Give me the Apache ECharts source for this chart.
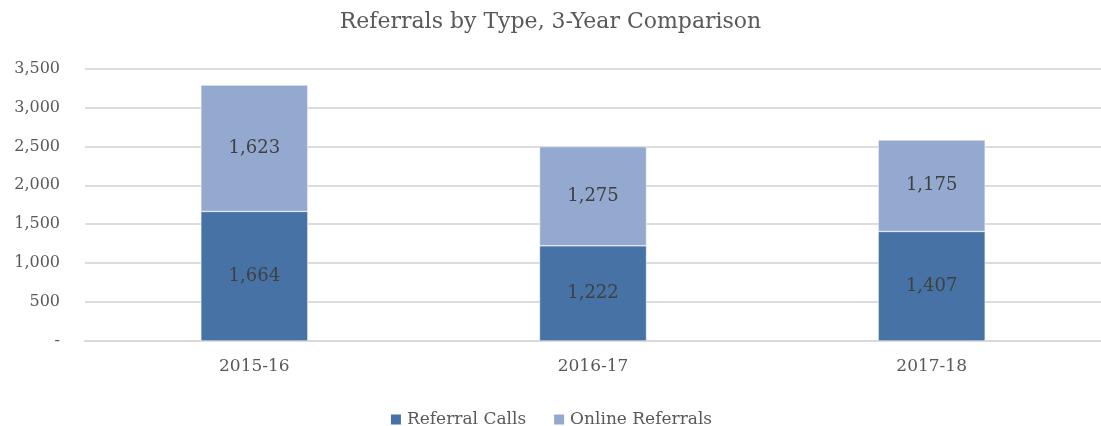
<!DOCTYPE html>
<html>
<head>
    <meta charset="utf-8">
    <title>Referrals by Type</title>
    <script src="https://cdn.jsdelivr.net/npm/echarts@6/dist/echarts.min.js"></script>
</head>
<style>
    html, body, #main {
        width: 100%;
        height: 100%;
        margin: 0;
    }
</style>
<body>
<div id='main'></div>
<script>
    var years = ['2015-16', '2016-17', '2017-18'];
    var callValues = [1664, 1222, 1407];
    var onlineValues = [1623, 1275, 1175];
    var yTicks = [0, 500, 1000, 1500, 2000, 2500, 3000, 3500];

    var serif = '"DejaVu Serif", serif';
    var chart = echarts.init(document.getElementById('main'));

    function fmt(v) {
        return v === 0 ? '-' : v.toLocaleString('en-US');
    }

    var option = {
        animation: false,
        title: {
            text: 'Referrals by Type, 3-Year Comparison',
            left: 'center',
            top: 6,
            textStyle: {fontFamily: serif, fontSize: 22, fontWeight: 'normal', color: '#595959'}
        },
        legend: {
            top: 406,
            left: 'center',
            itemWidth: 12,
            itemHeight: 12,
            itemGap: 26,
            icon: 'rect',
            textStyle: {fontFamily: serif, fontSize: 17, color: '#595959'},
            data: ['Referral Calls', 'Online Referrals']
        },
        grid: {left: 85, top: 68.5, width: 1026, height: 272.5},
        xAxis: {
            type: 'category',
            data: years,
            axisLine: {lineStyle: {color: '#d9d9d9', width: 2}},
            axisTick: {show: false},
            axisLabel: {fontFamily: serif, fontSize: 17, color: '#595959', margin: 17}
        },
        yAxis: {
            type: 'value',
            min: yTicks[0],
            max: yTicks[yTicks.length - 1],
            interval: 500,
            axisLine: {show: false},
            axisTick: {show: false},
            splitLine: {lineStyle: {color: '#dcdcdc', width: 2}},
            axisLabel: {fontFamily: serif, fontSize: 16, color: '#595959', margin: 25, formatter: fmt}
        },
        series: [{
            name: 'Referral Calls',
            type: 'bar',
            stack: 'total',
            barWidth: 107,
            data: callValues,
            itemStyle: {color: '#4672a6', borderColor: '#ffffff', borderWidth: 0.5},
            label: {
                show: true,
                position: 'inside',
                fontFamily: serif, fontSize: 18, color: '#404040',
                formatter: function (p) { return fmt(p.value); }
            }
        }, {
            name: 'Online Referrals',
            type: 'bar',
            stack: 'total',
            barWidth: 107,
            data: onlineValues,
            itemStyle: {color: '#94a9cf', borderColor: '#ffffff', borderWidth: 0.5},
            label: {
                show: true,
                position: 'inside',
                fontFamily: serif, fontSize: 18, color: '#404040',
                formatter: function (p) { return fmt(p.value); }
            }
        }]
    };

    chart.setOption(option);
    window.onresize = chart.resize;
</script>
</body>
</html>
